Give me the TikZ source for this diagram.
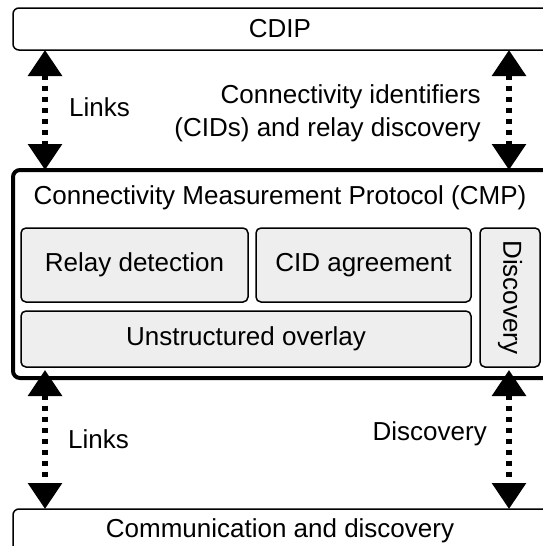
\documentclass[tikz,border=0pt]{standalone}
\usepackage{fontspec}
\setmainfont{Liberation Sans}
\usetikzlibrary{arrows.meta}
\definecolor{boxgray}{HTML}{EEEEEE}
\begin{document}
\begin{tikzpicture}[x=1pt,y=-1pt,
  layer/.style={draw, line width=1.5pt, rounded corners=6pt, inner sep=0pt, outer sep=0pt, anchor=north west},
  cmpbox/.style={layer, line width=4pt, rounded corners=7pt},
  part/.style={draw, line width=1.5pt, rounded corners=5pt, fill=boxgray, inner sep=0pt, outer sep=0pt, anchor=north west},
  lbl/.style={font=\fontsize{26}{33}\selectfont, inner sep=0pt},
  dlink/.style={line width=6pt, dash pattern=on 5pt off 6pt,
    {Triangle[width=33pt,length=26pt]}-{Triangle[width=33pt,length=26pt]}}]
\useasboundingbox (0,0) rectangle (543,546);

% layers (open to the right)
\node[layer, minimum width=547pt, minimum height=42pt] (cdip) at (13,8) {};
\node[lbl] (cdiplbl) at (280,29) {CDIP};

\node[cmpbox, minimum width=547pt, minimum height=208pt] (cmp) at (13,170) {};
\node[lbl] (cmplbl) at (280,198) {Connectivity Measurement Protocol (CMP)};

\node[layer, minimum width=547pt, minimum height=60pt] (comm) at (13,509) {};
\node[lbl, anchor=base] (commlbl) at (280,537) {Communication and discovery};

% CMP components
\node[part, minimum width=227pt, minimum height=74pt] (relay) at (21,228) {};
\node[lbl] at (relay.center) {Relay detection};
\node[part, minimum width=215pt, minimum height=74pt] (cid) at (256,228) {};
\node[lbl] at (cid.center) {CID agreement};
\node[part, minimum width=450pt, minimum height=56pt] (overlay) at (21,311) {};
\node[lbl] at (overlay.center) {Unstructured overlay};
\node[part, minimum width=60pt, minimum height=139pt] (disc) at (480,228) {};
\node[lbl, rotate=-90] at (disc.center) {Discovery};

% arrow columns
\coordinate (lx) at (45,0);
\coordinate (rx) at (509,0);

\draw[dlink] (cdip.south -| lx) -- (cmp.north -| lx);
\draw[dlink] (cdip.south -| rx) -- (cmp.north -| rx);
\draw[dlink] ([yshift=8pt]cmp.south -| lx) -- (comm.north -| lx);
\draw[dlink] ([yshift=8pt]cmp.south -| rx) -- (comm.north -| rx);

% labels
\node[lbl, anchor=west] (ltop) at (69,107) {Links};
\node[lbl, anchor=east, align=right] (cidlbl) at (481,113) {Connectivity identifiers\\(CIDs) and relay discovery};
\node[lbl, anchor=west] (lbot) at (68,439) {Links};
\node[lbl, anchor=east] (dbot) at (487,434) {Discovery};
\end{tikzpicture}
\end{document}
